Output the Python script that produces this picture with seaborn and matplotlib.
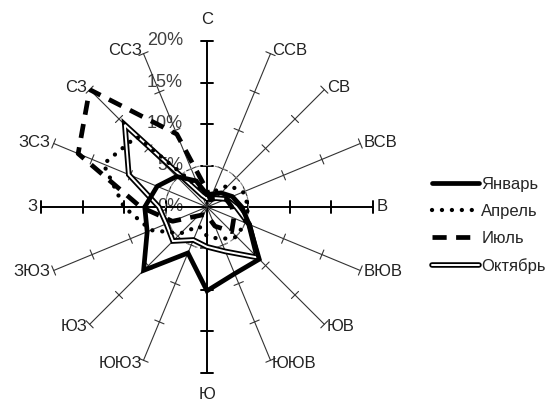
import numpy as np
import matplotlib
matplotlib.use('Agg')
import matplotlib.pyplot as plt
from matplotlib.lines import Line2D
from matplotlib.transforms import offset_copy
import seaborn as sns

directions = ['С', 'ССВ', 'СВ', 'ВСВ', 'В', 'ВЮВ', 'ЮВ', 'ЮЮВ',
              'Ю', 'ЮЮЗ', 'ЮЗ', 'ЗЮЗ', 'З', 'ЗСЗ', 'СЗ', 'ССЗ']
months = ['Январь', 'Апрель', 'Июль', 'Октябрь']

# wind frequency, %
jan = [1.5, 1.7, 2.4, 3.3, 4.2, 5.5, 8.9, 8.7, 10.1, 6.0, 10.8, 7.8, 7.5, 6.5, 5.2, 3.4]
apr = [1.5, 2.0, 3.7, 4.7, 5.0, 4.9, 5.1, 4.2, 3.5, 2.5, 4.5, 7.3, 10.0, 13.5, 12.0, 2.5]
jul = [2.0, 1.0, 1.5, 2.5, 3.0, 3.5, 4.2, 2.5, 1.0, 1.0, 1.5, 4.5, 8.0, 16.8, 20.0, 9.5]
oct_ = [1.0, 1.0, 1.5, 2.5, 3.5, 5.5, 8.6, 5.8, 4.8, 4.3, 5.8, 5.3, 5.8, 10.2, 14.0, 1.5]

r_ticks = [0, 5, 10, 15, 20]
r_max = 20
px_per_unit = 166 / r_max


def closed(theta, vals):
    return np.append(theta, theta[0] + 2 * np.pi), np.append(vals, vals[0])


def main():
    sns.set_style('white')
    plt.rcParams['font.family'] = ['Liberation Sans', 'DejaVu Sans']

    fig = plt.figure(figsize=(5.59, 4.03), dpi=100)
    ax = fig.add_axes([0.0733, 0.0744, 0.594, 0.824], projection='polar')
    ax.set_theta_zero_location('N')
    ax.set_theta_direction(-1)
    ax.set_ylim(0, r_max)
    ax.axis('off')

    theta = np.deg2rad(np.arange(len(directions)) * 22.5)

    # spokes with tick marks
    for i, th in enumerate(theta):
        main_axis = i % 4 == 0
        lw = 1.4 if main_axis else 0.8
        col = 'black' if main_axis else '#333333'
        ax.plot([th, th], [0, r_max], color=col, lw=lw, zorder=1, clip_on=False)
        half = 6 if main_axis else 5
        for r in r_ticks[1:]:
            d = half / (r * px_per_unit)
            ax.plot([th - d, th + d], [r, r], color=col, lw=lw, zorder=1,
                    clip_on=False)

    # dashed 5% circle
    circ = np.linspace(0, 2 * np.pi, 200)
    ax.plot(circ, np.full_like(circ, 5), color='#888888', lw=0.8,
            ls=(0, (4, 3)), zorder=1)

    # direction labels
    for name, th in zip(directions, theta):
        deg = np.rad2deg(th)
        if deg in (0, 180):
            ax.text(th, 22.6, name, ha='center', va='center', fontsize=12,
                    color='#222222')
        else:
            ha = 'left' if deg < 180 else 'right'
            ax.text(th, 20.4, name, ha=ha, va='center', fontsize=12,
                    color='#222222')

    # radial labels left of north axis
    trans = offset_copy(ax.transData, fig=fig, x=-24, y=0, units='dots')
    for r in r_ticks:
        ax.text(0, r, f'{r}%', transform=trans, ha='right', va='center',
                fontsize=13, color='#404040', zorder=0.5)

    # series
    t, v = closed(theta, jan)
    sns.lineplot(x=t, y=v, sort=False, estimator=None, ax=ax, color='black',
                 lw=3.4, solid_joinstyle='miter', zorder=5)
    t, v = closed(theta, apr)
    sns.lineplot(x=t, y=v, sort=False, estimator=None, ax=ax, color='black',
                 lw=3.1, ls=(0, (0.01, 2.3)), dash_capstyle='round', zorder=5)
    t, v = closed(theta, jul)
    sns.lineplot(x=t, y=v, sort=False, estimator=None, ax=ax, color='black',
                 lw=3.4, ls=(0, (3, 2)), zorder=5)
    t, v = closed(theta, oct_)
    sns.lineplot(x=t, y=v, sort=False, estimator=None, ax=ax, color='black',
                 lw=4.0, solid_joinstyle='miter', zorder=4)
    sns.lineplot(x=t, y=v, sort=False, estimator=None, ax=ax, color='white',
                 lw=1.4, solid_joinstyle='miter', zorder=4)

    handles = [
        Line2D([], [], color='black', lw=3.4),
        Line2D([], [], color='black', lw=3.1, ls=(0, (0.01, 2.3)),
               dash_capstyle='round'),
        Line2D([], [], color='black', lw=3.4, ls=(0, (3, 2))),
        (Line2D([], [], color='black', lw=4.0),
         Line2D([], [], color='white', lw=1.4)),
    ]
    fig.legend(handles, months, loc='center left',
               bbox_to_anchor=(0.773, 0.44), frameon=False, handlelength=2.8,
               handletextpad=0.15, labelspacing=0.72, fontsize=12,
               borderpad=0, borderaxespad=0)

    fig.savefig('out.png', dpi=100)
    plt.close()


if __name__ == '__main__':
    main()
